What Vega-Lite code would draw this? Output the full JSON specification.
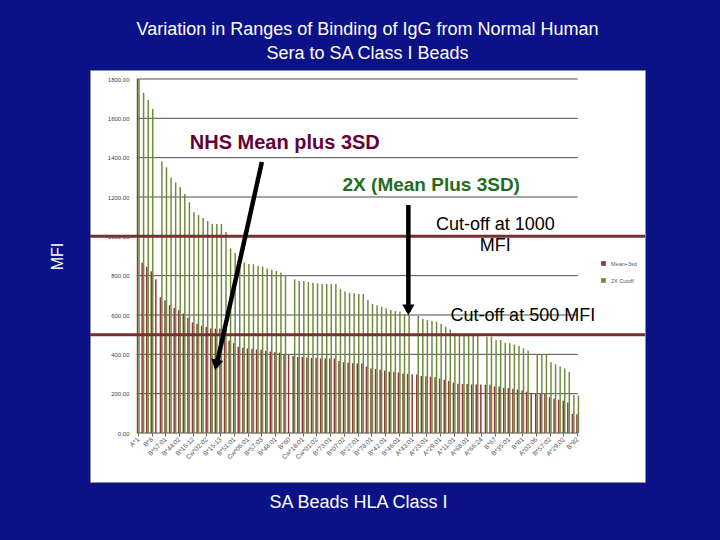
{
  "$schema": "https://vega.github.io/schema/vega-lite/v6.json",
  "width": 555,
  "height": 412,
  "autosize": {"type": "none"},
  "padding": {"left": 90, "top": 70, "right": 75, "bottom": 58},
  "background": "#0b1187",
  "title": {
    "text": ["Variation in Ranges of Binding of IgG from Normal Human", "Sera to SA Class I Beads"],
    "color": "white", "fontSize": 18, "fontWeight": "normal", "font": "Liberation Sans",
    "lineHeight": 24, "anchor": "middle", "frame": "group", "offset": 7
  },
  "config": {"font": "Liberation Sans", "view": {"fill": "white", "stroke": "#8a8a9a"}},
  "datasets": {
    "beads": [
      {"bead": "A*1", "mean3sd": 1800, "cutoff2x": 1800},
      {"bead": "A*01:01", "mean3sd": 866, "cutoff2x": 1730},
      {"bead": "A*02:01", "mean3sd": 845, "cutoff2x": 1693},
      {"bead": "B*8", "mean3sd": 822, "cutoff2x": 1648},
      {"bead": "A*02:03", "mean3sd": 782, "cutoff2x": null},
      {"bead": "A*03:01", "mean3sd": 690, "cutoff2x": 1380},
      {"bead": "B*57:01", "mean3sd": 675, "cutoff2x": 1351},
      {"bead": "A*11:02", "mean3sd": 650, "cutoff2x": 1298},
      {"bead": "A*24:02", "mean3sd": 636, "cutoff2x": 1273},
      {"bead": "B*44:02", "mean3sd": 625, "cutoff2x": 1251},
      {"bead": "A*24:03", "mean3sd": 607, "cutoff2x": 1215},
      {"bead": "A*25:01", "mean3sd": 586, "cutoff2x": 1173},
      {"bead": "B*15:12", "mean3sd": 562, "cutoff2x": 1124},
      {"bead": "A*26:01", "mean3sd": 555, "cutoff2x": 1108},
      {"bead": "A*30:01", "mean3sd": 546, "cutoff2x": 1093},
      {"bead": "Cw*02:02", "mean3sd": 539, "cutoff2x": 1078},
      {"bead": "A*30:02", "mean3sd": 531, "cutoff2x": 1063},
      {"bead": "A*31:01", "mean3sd": 531, "cutoff2x": 1063},
      {"bead": "B*15:13", "mean3sd": 531, "cutoff2x": 1063},
      {"bead": "A*32:01", "mean3sd": 511, "cutoff2x": 1022},
      {"bead": "A*33:01", "mean3sd": 470, "cutoff2x": 939},
      {"bead": "B*51:01", "mean3sd": 457, "cutoff2x": 915},
      {"bead": "A*34:01", "mean3sd": 438, "cutoff2x": 876},
      {"bead": "A*36:01", "mean3sd": 434, "cutoff2x": 868},
      {"bead": "Cw*06:01", "mean3sd": 430, "cutoff2x": 859},
      {"bead": "A*66:01", "mean3sd": 429, "cutoff2x": 858},
      {"bead": "A*68:02", "mean3sd": 425, "cutoff2x": 849},
      {"bead": "B*57:03", "mean3sd": 423, "cutoff2x": 846},
      {"bead": "A*69:01", "mean3sd": 418, "cutoff2x": 837},
      {"bead": "A*74:01", "mean3sd": 414, "cutoff2x": 829},
      {"bead": "B*48:01", "mean3sd": 412, "cutoff2x": 824},
      {"bead": "A*80:01", "mean3sd": 408, "cutoff2x": 816},
      {"bead": "B*07:03", "mean3sd": 402, "cutoff2x": 803},
      {"bead": "B*60", "mean3sd": 397, "cutoff2x": null},
      {"bead": "B*08:01", "mean3sd": 391, "cutoff2x": 782},
      {"bead": "B*13:01", "mean3sd": 387, "cutoff2x": 773},
      {"bead": "Cw*18:01", "mean3sd": 386, "cutoff2x": 773},
      {"bead": "B*13:02", "mean3sd": 384, "cutoff2x": 768},
      {"bead": "B*14:01", "mean3sd": 382, "cutoff2x": 764},
      {"bead": "Cw*01:02", "mean3sd": 381, "cutoff2x": 761},
      {"bead": "B*14:02", "mean3sd": 379, "cutoff2x": 758},
      {"bead": "B*15:01", "mean3sd": 379, "cutoff2x": 758},
      {"bead": "B*73:01", "mean3sd": 379, "cutoff2x": 758},
      {"bead": "B*15:02", "mean3sd": 379, "cutoff2x": 758},
      {"bead": "B*15:03", "mean3sd": 366, "cutoff2x": 732},
      {"bead": "B*07:02", "mean3sd": 360, "cutoff2x": 719},
      {"bead": "B*15:10", "mean3sd": 357, "cutoff2x": 713},
      {"bead": "B*15:11", "mean3sd": 355, "cutoff2x": 710},
      {"bead": "B*27:01", "mean3sd": 354, "cutoff2x": 707},
      {"bead": "B*15:16", "mean3sd": 353, "cutoff2x": 707},
      {"bead": "B*18:01", "mean3sd": 338, "cutoff2x": 676},
      {"bead": "B*78:01", "mean3sd": 328, "cutoff2x": 656},
      {"bead": "B*27:05", "mean3sd": 325, "cutoff2x": 649},
      {"bead": "B*27:08", "mean3sd": 321, "cutoff2x": 642},
      {"bead": "B*42:01", "mean3sd": 317, "cutoff2x": 634},
      {"bead": "B*35:08", "mean3sd": 312, "cutoff2x": 625},
      {"bead": "B*37:01", "mean3sd": 310, "cutoff2x": 620},
      {"bead": "B*46:01", "mean3sd": 308, "cutoff2x": 617},
      {"bead": "B*38:01", "mean3sd": 302, "cutoff2x": 605},
      {"bead": "B*39:01", "mean3sd": 300, "cutoff2x": 600},
      {"bead": "A*43:01", "mean3sd": 299, "cutoff2x": null},
      {"bead": "B*40:01", "mean3sd": 297, "cutoff2x": 595},
      {"bead": "B*40:02", "mean3sd": 290, "cutoff2x": 580},
      {"bead": "A*23:01", "mean3sd": 288, "cutoff2x": 575},
      {"bead": "B*41:01", "mean3sd": 286, "cutoff2x": 570},
      {"bead": "B*44:03", "mean3sd": 283, "cutoff2x": 566},
      {"bead": "A*29:01", "mean3sd": 277, "cutoff2x": 554},
      {"bead": "B*45:01", "mean3sd": 271, "cutoff2x": 541},
      {"bead": "B*47:01", "mean3sd": 264, "cutoff2x": 527},
      {"bead": "A*11:01", "mean3sd": 256, "cutoff2x": 507},
      {"bead": "B*49:01", "mean3sd": 250, "cutoff2x": 498},
      {"bead": "B*50:01", "mean3sd": 249, "cutoff2x": 498},
      {"bead": "A*68:01", "mean3sd": 249, "cutoff2x": 498},
      {"bead": "B*51:02", "mean3sd": 247, "cutoff2x": 493},
      {"bead": "B*52:01", "mean3sd": 247, "cutoff2x": 493},
      {"bead": "A*66:24", "mean3sd": 246, "cutoff2x": null},
      {"bead": "B*53:01", "mean3sd": 245, "cutoff2x": 490},
      {"bead": "B*54:01", "mean3sd": 245, "cutoff2x": 490},
      {"bead": "B*67", "mean3sd": 237, "cutoff2x": 473},
      {"bead": "B*55:01", "mean3sd": 236, "cutoff2x": 473},
      {"bead": "B*56:01", "mean3sd": 230, "cutoff2x": 459},
      {"bead": "B*35:01", "mean3sd": 228, "cutoff2x": 456},
      {"bead": "B*58:01", "mean3sd": 225, "cutoff2x": 450},
      {"bead": "B*59:01", "mean3sd": 221, "cutoff2x": 442},
      {"bead": "B*81", "mean3sd": 216, "cutoff2x": 431},
      {"bead": "B*67:01", "mean3sd": 210, "cutoff2x": 420},
      {"bead": "B*81:01", "mean3sd": 205, "cutoff2x": null},
      {"bead": "A*02:06", "mean3sd": 200, "cutoff2x": 400},
      {"bead": "B*82:01", "mean3sd": 199, "cutoff2x": 400},
      {"bead": "Cw*03:03", "mean3sd": 198, "cutoff2x": 397},
      {"bead": "B*57:02", "mean3sd": 182, "cutoff2x": 360},
      {"bead": "Cw*04:01", "mean3sd": 175, "cutoff2x": 350},
      {"bead": "Cw*05:01", "mean3sd": 169, "cutoff2x": 338},
      {"bead": "A*29:02", "mean3sd": 164, "cutoff2x": 328},
      {"bead": "Cw*07:02", "mean3sd": 155, "cutoff2x": 310},
      {"bead": "Cw*08:01", "mean3sd": 97, "cutoff2x": 193},
      {"bead": "B*82", "mean3sd": 95, "cutoff2x": 190}
    ],
    "grid": [
      {"mfi": 0}, {"mfi": 200}, {"mfi": 400}, {"mfi": 600}, {"mfi": 800},
      {"mfi": 1000}, {"mfi": 1200}, {"mfi": 1400}, {"mfi": 1600}, {"mfi": 1800}
    ],
    "cutoffs": [{"mfi": 1000}, {"mfi": 500}],
    "one": [{}]
  },
  "layer": [
    {
      "data": {"name": "grid"},
      "mark": {"type": "rule", "color": "#4d4d4d", "strokeWidth": 1},
      "encoding": {
        "y": {"field": "mfi", "type": "quantitative"},
        "x": {"datum": "A*1", "bandPosition": 0},
        "x2": {"datum": "B*82"}
      }
    },
    {
      "data": {"name": "beads"},
      "transform": [
        {"fold": ["mean3sd", "cutoff2x"], "as": ["series", "mfi"]},
        {"filter": "isValid(datum.mfi)"}
      ],
      "mark": {"type": "bar"},
      "encoding": {
        "x": {
          "field": "bead", "type": "nominal",
          "scale": {
            "domain": ["A*1","A*01:01","A*02:01","B*8","A*02:03","A*03:01","B*57:01","A*11:02","A*24:02","B*44:02","A*24:03","A*25:01","B*15:12","A*26:01","A*30:01","Cw*02:02","A*30:02","A*31:01","B*15:13","A*32:01","A*33:01","B*51:01","A*34:01","A*36:01","Cw*06:01","A*66:01","A*68:02","B*57:03","A*69:01","A*74:01","B*48:01","A*80:01","B*07:03","B*60","B*08:01","B*13:01","Cw*18:01","B*13:02","B*14:01","Cw*01:02","B*14:02","B*15:01","B*73:01","B*15:02","B*15:03","B*07:02","B*15:10","B*15:11","B*27:01","B*15:16","B*18:01","B*78:01","B*27:05","B*27:08","B*42:01","B*35:08","B*37:01","B*46:01","B*38:01","B*39:01","A*43:01","B*40:01","B*40:02","A*23:01","B*41:01","B*44:03","A*29:01","B*45:01","B*47:01","A*11:01","B*49:01","B*50:01","A*68:01","B*51:02","B*52:01","A*66:24","B*53:01","B*54:01","B*67","B*55:01","B*56:01","B*35:01","B*58:01","B*59:01","B*81","B*67:01","B*81:01","A*02:06","B*82:01","Cw*03:03","B*57:02","Cw*04:01","Cw*05:01","A*29:02","Cw*07:02","Cw*08:01","B*82"],
            "range": [46, 490], "paddingInner": 0.35, "paddingOuter": 0.175
          },
          "axis": {
            "values": ["A*1","B*8","B*57:01","B*44:02","B*15:12","Cw*02:02","B*15:13","B*51:01","Cw*06:01","B*57:03","B*48:01","B*60","Cw*18:01","Cw*01:02","B*73:01","B*07:02","B*27:01","B*78:01","B*42:01","B*46:01","A*43:01","A*23:01","A*29:01","A*11:01","A*68:01","A*66:24","B*67","B*35:01","B*81","A*02:06","B*57:02","A*29:02","B*82"],
            "title": "SA Beads HLA Class I", "titleColor": "white", "titleFontSize": 18,
            "titleFontWeight": "normal", "titlePadding": 33, "offset": -49,
            "labelAngle": -45, "labelFontSize": 6.5, "labelColor": "#555", "labelOverlap": false,
            "labelPadding": 2, "tickSize": 3, "tickColor": "#666", "domain": false, "grid": false
          }
        },
        "xOffset": {"field": "series", "type": "nominal", "scale": {"domain": ["mean3sd", "cutoff2x"]}},
        "y": {
          "field": "mfi", "type": "quantitative",
          "scale": {"domain": [0, 1800], "range": [363, 9], "nice": false},
          "axis": {
            "values": [0, 200, 400, 600, 800, 1000, 1200, 1400, 1600, 1800],
            "format": ".2f", "offset": -46, "labelFontSize": 6, "labelColor": "#444",
            "labelPadding": 7, "ticks": false, "domain": false, "grid": false,
            "title": "MFI", "titleColor": "white", "titleFontSize": 16,
            "titleFontWeight": "normal", "titlePadding": 42
          }
        },
        "color": {
          "field": "series", "type": "nominal",
          "scale": {"domain": ["mean3sd", "cutoff2x"], "range": ["#8b3a36", "#6e8b3d"]},
          "legend": {
            "orient": "none", "legendX": 510, "legendY": 190, "title": null,
            "symbolType": "square", "symbolSize": 22, "labelFontSize": 5.5,
            "labelColor": "#555", "rowPadding": 10,
            "labelExpr": "datum.label == 'mean3sd' ? 'Mean+3sd' : '2X Cutoff'"
          }
        }
      }
    },
    {
      "data": {"name": "cutoffs"},
      "mark": {"type": "rule", "color": "#7a2e2e", "strokeWidth": 3},
      "encoding": {"y": {"field": "mfi", "type": "quantitative"}}
    },
    {
      "data": {"name": "one"},
      "mark": {"type": "rule", "color": "black", "strokeWidth": 4.5},
      "encoding": {
        "x": {"datum": "B*57:03"}, "y": {"datum": 1378},
        "x2": {"datum": "A*31:01"}, "y2": {"datum": 335}
      }
    },
    {
      "data": {"name": "one"},
      "mark": {"type": "rule", "color": "black", "strokeWidth": 4.5},
      "encoding": {
        "x": {"datum": "B*39:01"}, "y": {"datum": 1159},
        "y2": {"datum": 615}
      }
    },
    {
      "data": {"name": "one"},
      "mark": {"type": "point", "shape": "triangle-down", "filled": true, "color": "black", "opacity": 1, "size": 150, "angle": 12.7},
      "encoding": {"x": {"datum": "A*31:01"}, "y": {"datum": 347}}
    },
    {
      "data": {"name": "one"},
      "mark": {"type": "point", "shape": "triangle-down", "filled": true, "color": "black", "opacity": 1, "size": 150},
      "encoding": {"x": {"datum": "B*39:01"}, "y": {"datum": 626}}
    },
    {
      "data": {"name": "one"},
      "mark": {"type": "text", "text": "NHS Mean plus 3SD", "fontSize": 20, "fontWeight": "bold", "color": "#660033", "align": "center", "baseline": "middle"},
      "encoding": {"x": {"datum": "B*07:03"}, "y": {"datum": 1475}}
    },
    {
      "data": {"name": "one"},
      "mark": {"type": "text", "text": "2X (Mean Plus 3SD)", "fontSize": 19, "fontWeight": "bold", "color": "#236b23", "align": "center", "baseline": "middle"},
      "encoding": {"x": {"datum": "B*41:01"}, "y": {"datum": 1261}}
    },
    {
      "data": {"name": "one"},
      "mark": {"type": "text", "text": "Cut-off at 1000", "fontSize": 18, "color": "black", "align": "center", "baseline": "middle"},
      "encoding": {"x": {"datum": "B*67"}, "y": {"datum": 1058}}
    },
    {
      "data": {"name": "one"},
      "mark": {"type": "text", "text": "MFI", "fontSize": 18, "color": "black", "align": "center", "baseline": "middle"},
      "encoding": {"x": {"datum": "B*67"}, "y": {"datum": 951}}
    },
    {
      "data": {"name": "one"},
      "mark": {"type": "text", "text": "Cut-off at 500 MFI", "fontSize": 18, "color": "black", "align": "center", "baseline": "middle"},
      "encoding": {"x": {"datum": "B*81"}, "y": {"datum": 595}}
    }
  ]
}
